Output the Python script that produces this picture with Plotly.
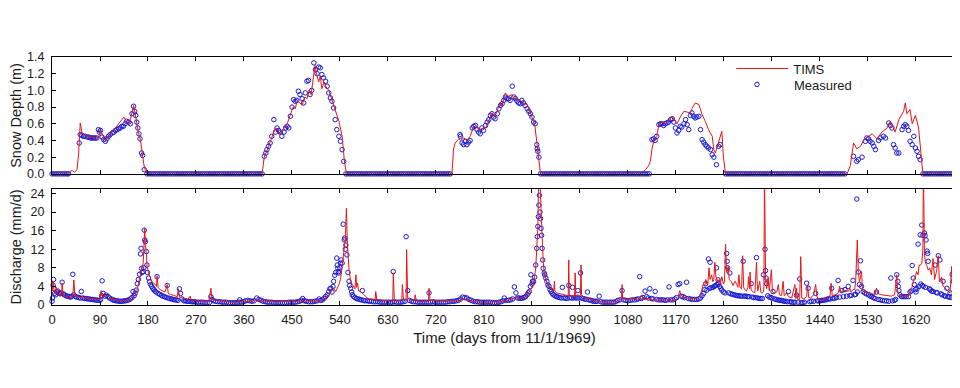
import plotly.graph_objects as go

# ---------------- data ----------------
x_ticks = [0, 90, 180, 270, 360, 450, 540, 630, 720, 810, 900, 990, 1080, 1170, 1260, 1350, 1440, 1530, 1620]
snow_ticks = [0.0, 0.2, 0.4, 0.6, 0.8, 1.0, 1.2, 1.4]
q_ticks = [0, 4, 8, 12, 16, 20, 24]

# Snow depth, TIMS model (day, m)
snow_tims = [
    (0, 0), (30, 0), (34, 0.03), (38, 0.04), (42, 0.02), (47, 0.05), (50, 0.25), (53, 0.61), (56, 0.5),
    (59, 0.47), (66, 0.45), (72, 0.44), (78, 0.43), (84, 0.43), (88, 0.44), (91, 0.52), (94, 0.48),
    (97, 0.42), (100, 0.4), (106, 0.45), (113, 0.5), (119, 0.55), (125, 0.6), (131, 0.65), (135, 0.68),
    (140, 0.63), (144, 0.6), (147, 0.65), (150, 0.75), (153, 0.82), (156, 0.72), (159, 0.6), (162, 0.5),
    (166, 0.4), (169, 0.25), (172, 0.12), (175, 0.04), (178, 0),
    (394, 0), (396, 0.1), (398, 0.2), (403, 0.28), (409, 0.38), (412, 0.45), (416, 0.5), (420, 0.55),
    (425, 0.5), (428, 0.47), (431, 0.52), (436, 0.55), (441, 0.6), (447, 0.72), (452, 0.8), (456, 0.78),
    (460, 0.88), (465, 0.85), (469, 0.82), (474, 0.92), (478, 0.9), (482, 1.0), (486, 0.95), (489, 1.1),
    (493, 1.3), (496, 1.2), (500, 1.1), (503, 1.17), (506, 1.02), (510, 1.1), (513, 1.05), (519, 1.0),
    (524, 0.9), (528, 0.81), (533, 0.72), (538, 0.63), (544, 0.45), (548, 0.17), (552, 0),
    (750, 0), (752, 0.2), (753, 0.3), (756, 0.37), (760, 0.4), (763, 0.42), (766, 0.4), (772, 0.43),
    (778, 0.4), (784, 0.45), (791, 0.57), (797, 0.55), (803, 0.53), (809, 0.55), (813, 0.55), (819, 0.63),
    (825, 0.73), (828, 0.7), (831, 0.69), (836, 0.78), (841, 0.85), (844, 0.82), (850, 0.97), (856, 0.93),
    (863, 0.95), (866, 0.9), (872, 0.9), (878, 0.88), (884, 0.85), (891, 0.83), (897, 0.73), (903, 0.63),
    (906, 0.55), (910, 0.35), (913, 0.2), (916, 0),
    (1103, 0), (1113, 0.05), (1119, 0.1), (1122, 0.15), (1125, 0.3), (1128, 0.38), (1131, 0.42),
    (1134, 0.45), (1138, 0.59), (1141, 0.6), (1144, 0.62), (1150, 0.6), (1156, 0.64), (1163, 0.69),
    (1166, 0.65), (1172, 0.6), (1178, 0.68), (1185, 0.75), (1191, 0.74), (1197, 0.73), (1200, 0.78),
    (1206, 0.85), (1213, 0.83), (1219, 0.71), (1225, 0.63), (1231, 0.53), (1238, 0.45), (1241, 0.29),
    (1244, 0.25), (1250, 0.37), (1256, 0.51), (1259, 0.2), (1263, 0),
    (1491, 0), (1497, 0.1), (1503, 0.37), (1509, 0.3), (1516, 0.33), (1522, 0.4), (1531, 0.45),
    (1538, 0.48), (1547, 0.42), (1556, 0.5), (1566, 0.55), (1572, 0.63), (1581, 0.5), (1588, 0.65),
    (1597, 0.75), (1600, 0.85), (1603, 0.72), (1609, 0.77), (1613, 0.6), (1619, 0.7), (1625, 0.55),
    (1628, 0.3), (1633, 0), (1697, 0),
]

# Snow depth, measured (day, m)
snow_meas = [
    (0, 0), (4, 0), (8, 0), (12, 0), (16, 0), (20, 0), (24, 0), (28, 0), (31, 0),
    (51, 0.37), (53, 0.47), (56, 0.46), (59, 0.45), (62, 0.45), (66, 0.44), (69, 0.44), (72, 0.43),
    (75, 0.43), (78, 0.43), (81, 0.43), (84, 0.43), (87, 0.53), (89, 0.5), (91, 0.52), (94, 0.44),
    (97, 0.41), (100, 0.39), (103, 0.42), (106, 0.45), (109, 0.47), (113, 0.49), (116, 0.5), (119, 0.52),
    (122, 0.53), (125, 0.54), (128, 0.55), (131, 0.57), (134, 0.57), (137, 0.6), (140, 0.63), (144, 0.62),
    (147, 0.6), (150, 0.72), (153, 0.81), (155, 0.75), (157, 0.7), (159, 0.62), (161, 0.55), (163, 0.48),
    (165, 0.42), (168, 0.25), (170, 0.22), (173, 0.05),
    (178, 0), (182, 0), (186, 0), (190, 0), (194, 0), (198, 0), (202, 0), (206, 0), (210, 0), (214, 0),
    (218, 0), (222, 0), (226, 0), (230, 0), (234, 0), (238, 0), (242, 0), (246, 0), (250, 0), (254, 0),
    (258, 0), (262, 0), (266, 0), (270, 0), (274, 0), (278, 0), (282, 0), (286, 0), (290, 0), (294, 0),
    (298, 0), (302, 0), (306, 0), (310, 0), (314, 0), (318, 0), (322, 0), (326, 0), (330, 0), (334, 0),
    (338, 0), (342, 0), (346, 0), (350, 0), (354, 0), (358, 0), (362, 0), (366, 0), (370, 0), (374, 0),
    (378, 0), (382, 0), (386, 0), (390, 0), (394, 0),
    (398, 0.21), (401, 0.25), (403, 0.29), (406, 0.33), (409, 0.37), (412, 0.45), (416, 0.65), (419, 0.5),
    (422, 0.55), (425, 0.52), (428, 0.5), (431, 0.45), (435, 0.5), (438, 0.55), (441, 0.57), (444, 0.55),
    (447, 0.69), (450, 0.8), (453, 0.89), (456, 0.87), (459, 0.88), (462, 0.99), (465, 0.95), (469, 0.9),
    (472, 0.85), (475, 0.97), (478, 1.11), (481, 1.12), (484, 0.95), (487, 1.0), (491, 1.33), (494, 1.25),
    (497, 1.2), (500, 1.28), (503, 1.27), (506, 1.19), (509, 1.15), (513, 1.11), (516, 1.05), (519, 0.97),
    (522, 0.91), (525, 0.87), (528, 0.79), (531, 0.65), (534, 0.53), (538, 0.45), (541, 0.39), (544, 0.29),
    (547, 0.15),
    (551, 0), (555, 0), (559, 0), (563, 0), (567, 0), (571, 0), (575, 0), (579, 0), (583, 0), (587, 0),
    (591, 0), (595, 0), (599, 0), (603, 0), (607, 0), (611, 0), (615, 0), (619, 0), (623, 0), (627, 0),
    (631, 0), (635, 0), (639, 0), (643, 0), (647, 0), (651, 0), (655, 0), (659, 0), (663, 0), (667, 0),
    (671, 0), (675, 0), (679, 0), (683, 0), (687, 0), (691, 0), (695, 0), (699, 0), (703, 0), (707, 0),
    (711, 0), (715, 0), (719, 0), (723, 0), (727, 0), (731, 0), (735, 0), (739, 0), (743, 0), (747, 0),
    (765, 0.47), (766, 0.45), (769, 0.37), (772, 0.35), (775, 0.39), (778, 0.35), (781, 0.38), (784, 0.4),
    (788, 0.55), (791, 0.57), (794, 0.58), (797, 0.53), (800, 0.5), (803, 0.48), (806, 0.55), (809, 0.52),
    (813, 0.58), (816, 0.62), (819, 0.65), (822, 0.7), (825, 0.72), (828, 0.68), (831, 0.66), (835, 0.72),
    (838, 0.78), (841, 0.82), (844, 0.84), (847, 0.88), (850, 0.92), (853, 0.9), (856, 0.9), (859, 0.88),
    (863, 1.05), (866, 0.92), (869, 0.9), (872, 0.87), (875, 0.85), (878, 0.84), (881, 0.88), (884, 0.85),
    (887, 0.82), (891, 0.78), (894, 0.75), (897, 0.72), (900, 0.68), (903, 0.62), (906, 0.6), (909, 0.35),
    (910, 0.3), (911, 0.27), (913, 0.2),
    (916, 0), (920, 0), (924, 0), (928, 0), (932, 0), (936, 0), (940, 0), (944, 0), (948, 0), (952, 0),
    (956, 0), (960, 0), (964, 0), (968, 0), (972, 0), (976, 0), (980, 0), (984, 0), (988, 0), (992, 0),
    (996, 0), (1000, 0), (1004, 0), (1008, 0), (1012, 0), (1016, 0), (1020, 0), (1024, 0), (1028, 0),
    (1032, 0), (1036, 0), (1040, 0), (1044, 0), (1048, 0), (1052, 0), (1056, 0), (1060, 0), (1064, 0),
    (1068, 0), (1072, 0), (1076, 0), (1080, 0), (1084, 0), (1088, 0), (1092, 0), (1096, 0), (1100, 0),
    (1104, 0), (1108, 0), (1112, 0), (1116, 0), (1120, 0),
    (1125, 0.41), (1128, 0.42), (1131, 0.4), (1134, 0.45), (1138, 0.59), (1141, 0.6), (1144, 0.6),
    (1147, 0.58), (1150, 0.6), (1153, 0.61), (1156, 0.62), (1160, 0.65), (1163, 0.66), (1166, 0.62),
    (1169, 0.55), (1172, 0.49), (1175, 0.52), (1178, 0.57), (1181, 0.56), (1185, 0.6), (1188, 0.65),
    (1191, 0.59), (1194, 0.53), (1197, 0.7), (1200, 0.73), (1203, 0.69), (1206, 0.67), (1209, 0.68),
    (1213, 0.69), (1216, 0.53), (1219, 0.41), (1222, 0.38), (1225, 0.35), (1228, 0.33), (1231, 0.31),
    (1235, 0.29), (1238, 0.23), (1241, 0.2), (1246, 0.11), (1250, 0.33), (1253, 0.35),
    (1263, 0), (1267, 0), (1271, 0), (1275, 0), (1279, 0), (1283, 0), (1287, 0), (1291, 0), (1295, 0),
    (1299, 0), (1303, 0), (1307, 0), (1311, 0), (1315, 0), (1319, 0), (1323, 0), (1327, 0), (1331, 0),
    (1335, 0), (1339, 0), (1343, 0), (1347, 0), (1351, 0), (1355, 0), (1359, 0), (1363, 0), (1367, 0),
    (1371, 0), (1375, 0), (1379, 0), (1383, 0), (1387, 0), (1391, 0), (1395, 0), (1399, 0), (1403, 0),
    (1407, 0), (1411, 0), (1415, 0), (1419, 0), (1423, 0), (1427, 0), (1431, 0), (1435, 0), (1439, 0),
    (1443, 0), (1447, 0), (1451, 0), (1455, 0), (1459, 0), (1463, 0), (1467, 0), (1471, 0), (1475, 0),
    (1479, 0), (1483, 0), (1487, 0),
    (1503, 0.21), (1509, 0.15), (1512, 0.17), (1519, 0.2), (1525, 0.39), (1528, 0.43), (1531, 0.42),
    (1534, 0.39), (1538, 0.37), (1541, 0.33), (1544, 0.29), (1550, 0.4), (1553, 0.43), (1559, 0.45),
    (1563, 0.43), (1569, 0.61), (1572, 0.58), (1575, 0.55), (1578, 0.35), (1581, 0.31), (1584, 0.25),
    (1588, 0.25), (1594, 0.53), (1597, 0.57), (1600, 0.59), (1603, 0.57), (1606, 0.52), (1609, 0.39),
    (1613, 0.35), (1616, 0.45), (1619, 0.31), (1622, 0.27), (1625, 0.21), (1628, 0.17),
    (1633, 0), (1637, 0), (1641, 0), (1645, 0), (1649, 0), (1653, 0), (1657, 0), (1661, 0), (1665, 0),
    (1669, 0), (1673, 0), (1677, 0), (1681, 0), (1685, 0), (1689, 0), (1693, 0), (1696, 0),
]

# Discharge, TIMS model (day, mm/d)
q_tims = [
    (0, 3.0), (2, 5.0), (4, 2.8), (6, 2.6), (8, 3.8), (10, 2.4), (14, 2.2), (18, 2.0), (19, 4.7), (21, 2.0),
    (25, 1.9), (30, 1.8), (35, 1.7), (39, 2.0), (41, 5.4), (43, 2.0), (47, 1.8), (52, 1.6), (56, 1.7),
    (60, 1.5), (65, 1.5), (70, 1.4), (75, 1.3), (80, 1.3), (85, 1.2), (90, 1.2), (92, 3.1), (94, 1.8),
    (98, 2.0), (102, 2.2), (106, 1.8), (110, 1.4), (115, 1.2), (120, 1.1), (125, 1.0), (130, 1.0),
    (135, 1.0), (140, 1.1), (145, 1.2), (150, 1.6), (155, 2.0), (159, 3.0), (162, 4.4), (166, 6.1),
    (169, 7.6), (171, 9.0), (174, 16.5), (175, 13.0), (177, 11.0), (178, 8.6), (181, 6.9), (184, 5.8),
    (187, 5.1), (191, 4.6), (194, 4.4), (196, 4.0), (197, 6.3), (199, 3.8), (203, 3.3), (208, 3.0),
    (212, 2.8), (216, 4.4), (218, 2.5), (222, 2.3), (225, 2.2), (230, 2.0), (235, 1.8), (237, 3.5),
    (239, 1.7), (244, 1.5), (250, 1.3), (255, 1.2), (259, 1.9), (261, 1.1), (265, 1.0), (269, 0.9),
    (275, 0.8), (281, 0.8), (287, 0.8), (294, 0.7), (298, 3.6), (300, 1.1), (306, 1.1), (312, 1.0),
    (318, 0.9), (325, 0.7), (335, 0.6), (345, 0.6), (352, 0.8), (356, 0.6), (362, 0.7),
    (368, 0.9), (375, 1.0), (384, 1.1), (391, 0.9), (398, 0.8), (404, 0.7), (415, 0.7), (425, 0.7),
    (435, 0.7), (448, 0.7), (460, 0.8), (470, 0.9), (479, 0.8), (490, 0.8), (498, 0.9), (505, 1.0),
    (512, 1.3), (516, 1.8), (520, 2.2), (523, 3.0), (528, 3.6), (532, 2.9), (535, 3.5), (538, 4.4),
    (541, 5.5), (544, 8.6), (546, 10.0), (548, 12.9), (550, 14.0), (552, 20.8), (553, 13.0), (554, 12.9),
    (557, 7.6), (560, 5.1), (563, 4.4), (566, 3.8), (568, 3.5), (570, 6.5), (571, 3.8), (573, 4.7),
    (575, 3.0), (579, 2.9), (582, 2.5), (585, 2.2), (588, 1.8), (591, 1.5), (596, 1.3), (600, 1.3),
    (606, 1.2), (607, 2.9), (609, 1.2), (616, 1.1), (622, 0.9), (629, 0.8), (635, 0.8), (639, 0.9),
    (640, 6.9), (642, 0.9), (648, 0.8), (652, 0.9), (656, 1.2), (657, 4.4), (659, 1.2), (663, 1.0),
    (664, 1.2), (665, 11.9), (667, 1.5), (670, 1.1), (675, 1.0), (680, 1.2), (681, 2.2), (683, 1.0),
    (690, 0.8), (697, 0.7), (704, 0.7), (706, 0.9), (707, 3.6), (709, 0.9), (716, 1.1), (722, 0.9),
    (729, 0.8),
    (740, 0.8), (750, 0.9), (757, 0.8), (765, 1.0), (770, 1.2), (778, 1.1), (785, 0.9), (795, 0.7),
    (805, 0.6), (815, 0.6), (825, 0.6), (835, 0.6), (845, 0.7), (852, 0.9), (858, 1.1), (864, 1.3),
    (870, 1.6), (875, 1.5), (880, 1.4), (886, 1.5), (890, 2.0), (895, 2.9), (898, 3.5), (901, 4.0),
    (904, 5.4), (907, 8.0), (909, 12.0), (911, 17.0), (912.5, 27.0), (914, 25.0), (915, 27.0),
    (917, 20.8), (919, 12.2), (921, 9.4), (923, 6.9), (926, 5.4), (929, 4.5), (932, 4.0), (936, 3.5),
    (939, 3.6), (941, 3.0), (942, 5.1), (943, 3.0), (946, 2.6), (950, 2.5), (955, 2.4), (960, 2.3),
    (965, 2.2), (968, 2.0), (969, 9.7), (970, 2.2), (974, 2.0), (977, 1.9), (980, 1.8), (981, 6.9),
    (982, 1.9), (986, 2.2), (989, 2.0), (991, 2.2), (992, 8.6), (993, 2.2), (996, 1.8), (1000, 1.6),
    (1005, 1.4), (1010, 1.2), (1015, 1.0), (1020, 0.9), (1026, 0.8), (1033, 0.6), (1040, 0.6),
    (1050, 0.6), (1058, 0.7), (1062, 1.0), (1066, 1.2), (1068, 1.5), (1069, 4.4), (1070, 1.5),
    (1075, 1.2), (1080, 1.3), (1086, 1.4),
    (1093, 1.2), (1100, 1.3), (1106, 2.2), (1108, 1.3), (1112, 1.2), (1118, 1.3), (1125, 1.1),
    (1131, 1.0), (1138, 1.1), (1145, 1.1), (1152, 1.2), (1158, 1.1), (1165, 1.0), (1170, 1.1),
    (1174, 1.6), (1177, 3.1), (1179, 2.2), (1181, 1.9), (1185, 1.6), (1190, 1.5), (1195, 1.5),
    (1200, 1.4), (1205, 1.3), (1210, 1.4), (1215, 2.0), (1218, 3.0), (1221, 4.4), (1224, 4.0),
    (1226, 5.5), (1228, 4.5), (1230, 5.0), (1232, 8.0), (1234, 5.5), (1237, 6.5), (1239, 5.0),
    (1241, 5.5), (1243, 9.2), (1245, 6.0), (1247, 5.5), (1249, 5.0), (1251, 5.5), (1253, 4.4),
    (1256, 6.1), (1259, 4.5), (1261, 5.0), (1263, 13.1), (1265, 7.0), (1268, 8.3), (1270, 5.5),
    (1274, 5.0), (1277, 4.2), (1281, 5.1), (1284, 4.4), (1286, 3.8), (1288, 6.5), (1290, 3.8),
    (1293, 3.5), (1295, 10.6), (1297, 3.8), (1299, 3.3), (1302, 3.0), (1305, 3.8), (1306, 6.1),
    (1308, 3.5), (1309, 7.1), (1311, 3.2), (1315, 2.8), (1318, 2.6), (1321, 9.2), (1323, 3.0),
    (1324, 3.3), (1327, 5.1), (1329, 2.8), (1331, 2.5), (1334, 2.8), (1335, 4.0), (1336, 30.0),
    (1338, 6.0), (1340, 3.5), (1343, 5.8), (1345, 3.0), (1349, 7.6), (1351, 2.8), (1355, 2.5),
    (1359, 2.8), (1362, 4.4), (1364, 2.2), (1368, 2.0), (1371, 5.1), (1373, 2.0), (1377, 2.6),
    (1381, 1.8), (1387, 1.5), (1393, 4.4), (1395, 1.4),
    (1396, 3.6), (1398, 1.3), (1402, 1.2), (1404, 10.4), (1406, 1.5), (1410, 1.3), (1415, 1.8),
    (1417, 4.3), (1419, 1.6), (1423, 1.5), (1428, 2.2), (1432, 4.4), (1434, 2.0), (1437, 1.2),
    (1443, 1.1), (1449, 1.5), (1456, 1.8), (1459, 2.0), (1461, 4.7), (1463, 2.0), (1468, 2.2),
    (1474, 2.5), (1477, 4.0), (1479, 2.8), (1484, 2.9), (1487, 3.2), (1490, 3.0), (1494, 3.0),
    (1496, 3.6), (1498, 2.8), (1502, 3.3), (1505, 3.3), (1507, 5.0), (1510, 14.0), (1512, 7.0),
    (1514, 5.0), (1516, 6.0), (1518, 7.2), (1520, 3.0), (1525, 2.9), (1531, 2.7), (1537, 2.5),
    (1543, 2.2), (1546, 3.6), (1548, 2.5), (1555, 2.2), (1562, 2.1), (1568, 2.0), (1574, 1.9),
    (1580, 2.2), (1584, 6.5), (1586, 2.6), (1590, 2.2), (1595, 2.0), (1600, 1.9), (1606, 1.9),
    (1609, 2.5), (1612, 3.5), (1615, 5.0), (1617, 5.8), (1619, 6.0), (1621, 7.2), (1624, 6.5),
    (1626, 8.6), (1628, 8.5), (1631, 9.0), (1633, 12.0), (1634, 30.0), (1636, 11.0), (1638, 9.0),
    (1641, 8.3), (1643, 7.5), (1646, 8.0), (1649, 6.5), (1652, 10.0), (1655, 5.5), (1659, 7.5),
    (1662, 10.6), (1664, 5.0), (1668, 6.0), (1671, 4.0), (1674, 3.8), (1678, 3.2), (1681, 2.9),
    (1684, 2.6), (1687, 8.3), (1689, 2.5), (1693, 1.8), (1695, 2.5), (1697, 1.5),
]

# Discharge, measured (day, mm/d)
q_meas = [
    (0, 0.8), (1, 1.5), (2, 4.3), (3, 5.5), (4, 3.5), (5, 2.5), (7, 2.2), (9, 2.8), (11, 3.0), (13, 2.6),
    (15, 2.4), (17, 2.6), (19, 4.9), (21, 2.4), (23, 2.2), (26, 2.0), (29, 1.9), (32, 1.8), (35, 1.7),
    (37, 1.9), (39, 6.6), (41, 2.2), (44, 1.8), (47, 1.7), (50, 1.6), (53, 1.5), (55, 2.9), (58, 1.5),
    (61, 1.4), (64, 1.4), (67, 1.3), (70, 1.3), (73, 1.2), (76, 1.2), (79, 1.1), (82, 1.1), (85, 1.0),
    (88, 1.0), (91, 1.1), (93, 2.0), (94, 5.2), (96, 2.5), (99, 1.9), (102, 2.1), (105, 1.8), (108, 1.5),
    (111, 1.3), (114, 1.1), (117, 1.0), (120, 0.9), (123, 0.9), (126, 0.8), (129, 0.8), (132, 0.8),
    (135, 0.9), (138, 0.9), (141, 1.0), (144, 1.1), (147, 1.3), (150, 1.6), (152, 2.9), (154, 2.0),
    (156, 2.5), (158, 3.2), (160, 4.6), (162, 5.5), (164, 6.6), (166, 11.0), (167, 12.2), (168, 7.9),
    (169, 7.0), (171, 7.2), (172, 8.0), (173, 16.1), (174, 14.0), (175, 13.6), (177, 11.5), (178, 8.6),
    (179, 7.0), (181, 5.8), (183, 5.0), (185, 4.4), (187, 4.0), (189, 3.6), (191, 3.3), (193, 3.0),
    (195, 2.8), (197, 6.1), (199, 2.5), (202, 2.3), (205, 2.1), (208, 1.9), (211, 1.8), (214, 1.6),
    (216, 4.2), (218, 1.5), (221, 1.4), (224, 1.3), (227, 1.2), (230, 1.1), (233, 1.1), (236, 1.0),
    (239, 3.5), (241, 2.5), (244, 1.3), (247, 0.9), (250, 0.9), (253, 0.8), (256, 0.8), (259, 0.8),
    (262, 0.7), (265, 0.7), (268, 0.7), (271, 0.6), (275, 0.6), (279, 0.6), (283, 0.6), (287, 0.5),
    (291, 0.5), (295, 0.5), (298, 1.8), (300, 1.2), (303, 0.9), (307, 0.8), (311, 0.7), (315, 0.7),
    (319, 0.6), (323, 0.6), (327, 0.6), (331, 0.5), (335, 0.5), (339, 0.5), (343, 0.5), (347, 0.5),
    (351, 0.6), (352, 1.1), (355, 0.6), (359, 0.7), (363, 0.9), (367, 1.0), (371, 0.9), (375, 0.8),
    (379, 0.9), (384, 1.5), (388, 1.2), (392, 1.0), (396, 0.8), (400, 0.7), (404, 0.6), (408, 0.6),
    (412, 0.6), (416, 0.5), (420, 0.5), (424, 0.5), (428, 0.5), (432, 0.5), (436, 0.5), (440, 0.5),
    (444, 0.6), (448, 0.6), (452, 0.6), (456, 0.6), (460, 0.7), (464, 0.8), (468, 1.0), (470, 1.4),
    (473, 0.9), (477, 0.8), (481, 0.7), (485, 0.7), (489, 0.7), (493, 0.8), (497, 0.9), (501, 1.3),
    (504, 1.0), (507, 1.1), (510, 1.4), (513, 1.8), (516, 2.2), (519, 2.9), (521, 3.5), (523, 3.6),
    (525, 2.8), (527, 4.0), (528, 5.1), (530, 6.4), (532, 7.0), (534, 10.1), (535, 8.6), (536, 7.9),
    (537, 7.2), (538, 6.9), (540, 8.0), (541, 9.0), (542, 9.7), (544, 9.0), (546, 17.4), (548, 14.0),
    (549, 14.4), (550, 12.0), (551, 12.9), (553, 10.8), (555, 7.0), (557, 5.1), (558, 4.2), (560, 3.6),
    (562, 2.8), (563, 2.2), (565, 1.9), (568, 1.6), (571, 1.4), (574, 1.3), (577, 1.2), (580, 1.1),
    (582, 3.1), (584, 1.0), (587, 0.9), (591, 0.9), (595, 0.8), (599, 0.8), (603, 0.7), (607, 0.7),
    (611, 0.7), (615, 0.6), (619, 0.6), (623, 0.6), (627, 0.6), (631, 0.6), (635, 0.6), (638, 0.6),
    (640, 7.2), (642, 0.7), (646, 0.6), (650, 0.6), (654, 0.6), (658, 0.7), (662, 0.8), (664, 14.7),
    (667, 3.1), (670, 1.0), (674, 0.8), (678, 0.7), (682, 0.7), (686, 0.6), (690, 0.6), (694, 0.6),
    (698, 0.6), (702, 0.6), (706, 0.6), (707, 2.6), (710, 0.6), (714, 0.7), (718, 0.6), (722, 0.6),
    (726, 0.6), (730, 0.6), (734, 0.6), (738, 0.6), (742, 0.7), (746, 0.7), (750, 0.8), (754, 0.8),
    (758, 0.9), (762, 1.0), (766, 1.3), (770, 1.7), (774, 1.6), (778, 1.5), (782, 1.2), (786, 1.0),
    (790, 0.8), (794, 0.7), (798, 0.7), (802, 0.6), (806, 0.6), (810, 0.6), (814, 0.6), (818, 0.6),
    (822, 0.6), (826, 0.5), (830, 0.5), (834, 0.5), (838, 0.6), (842, 0.7), (846, 0.9), (848, 1.5),
    (852, 1.0), (856, 1.0), (860, 1.1), (864, 1.3), (867, 3.9), (870, 2.6), (873, 1.5), (876, 1.5),
    (879, 1.4), (882, 1.5), (885, 1.6), (888, 1.8), (891, 2.2), (893, 2.6), (895, 2.9), (897, 4.0),
    (898, 6.5), (900, 4.5), (901, 5.1), (903, 5.0), (905, 6.0), (907, 8.6), (909, 12.2), (910, 14.7),
    (911, 16.9), (912, 19.0), (913, 21.5), (914, 23.6), (915, 20.0), (916, 18.6), (917, 16.5),
    (918, 15.0), (919, 12.2), (920, 9.7), (921, 7.9), (923, 6.9), (924, 6.5), (926, 5.8), (928, 5.1),
    (930, 4.3), (932, 4.0), (934, 3.3), (936, 2.9), (938, 2.5), (940, 2.2), (943, 2.0), (946, 1.8),
    (949, 1.7), (952, 1.6), (955, 1.5), (957, 3.8), (960, 1.5), (963, 1.5), (966, 1.4), (969, 4.2),
    (971, 1.6), (974, 1.5), (976, 3.8), (978, 1.5), (981, 1.6), (984, 1.5), (986, 3.1), (988, 1.5),
    (991, 6.9), (993, 1.5), (996, 1.4), (999, 1.3), (1002, 1.2), (1004, 2.8), (1007, 1.1), (1010, 1.0),
    (1013, 0.9), (1016, 0.8), (1019, 0.8), (1022, 0.8), (1026, 1.9), (1029, 0.7), (1033, 0.6),
    (1037, 0.6), (1041, 0.6), (1045, 0.6), (1049, 0.6), (1053, 0.6), (1057, 0.7), (1061, 1.0),
    (1065, 1.1), (1069, 3.1), (1072, 1.1), (1076, 1.0), (1080, 0.9), (1084, 1.0), (1088, 1.1),
    (1092, 1.1), (1096, 1.2), (1099, 1.3), (1102, 6.1), (1105, 1.4), (1108, 1.6), (1112, 3.0),
    (1115, 1.8), (1118, 1.5), (1121, 3.5), (1124, 1.4), (1127, 1.3), (1131, 2.9), (1134, 1.2),
    (1138, 1.1), (1142, 1.1), (1146, 1.1), (1150, 1.0), (1154, 1.1), (1157, 3.9), (1160, 1.1),
    (1164, 1.1), (1168, 1.3), (1171, 1.6), (1174, 4.4), (1177, 4.6), (1180, 1.9), (1183, 1.8),
    (1186, 1.6), (1190, 4.9), (1193, 1.4), (1197, 1.3), (1201, 1.2), (1205, 1.2), (1209, 1.2),
    (1213, 1.3), (1216, 1.5), (1219, 2.0), (1222, 2.5), (1224, 3.3), (1226, 4.6), (1228, 3.2),
    (1231, 9.9), (1233, 3.6), (1234, 9.2), (1236, 3.7), (1239, 3.8), (1242, 4.0), (1244, 4.2),
    (1246, 8.0), (1247, 4.4), (1249, 5.4), (1250, 4.6), (1252, 4.0), (1254, 3.6), (1256, 3.2),
    (1259, 2.8), (1262, 2.6), (1265, 11.1), (1266, 9.4), (1267, 8.0), (1269, 2.6), (1271, 6.9),
    (1273, 2.4), (1276, 2.3), (1279, 2.2), (1282, 2.1), (1285, 2.0), (1288, 2.0), (1291, 1.9),
    (1294, 1.9), (1296, 9.4), (1298, 1.9), (1301, 1.9), (1304, 1.8), (1307, 1.8), (1311, 4.6),
    (1313, 1.7), (1316, 1.6), (1319, 1.6), (1321, 10.2), (1323, 1.5), (1326, 1.4), (1329, 1.4),
    (1332, 1.4), (1334, 6.5), (1337, 12.0), (1338, 7.4), (1339, 5.8), (1340, 4.6), (1342, 2.0),
    (1345, 1.7), (1348, 1.6), (1350, 1.5), (1352, 2.9), (1355, 1.3), (1358, 1.2), (1361, 1.1),
    (1364, 1.0), (1367, 1.0), (1370, 0.9), (1373, 0.8), (1376, 0.8), (1379, 0.7), (1381, 2.9),
    (1384, 0.7), (1387, 0.6), (1390, 0.6), (1393, 0.6), (1396, 2.1), (1399, 0.6), (1402, 5.6),
    (1405, 0.5), (1408, 0.5), (1411, 0.6), (1415, 4.7), (1418, 3.6), (1421, 0.7), (1424, 0.8),
    (1428, 0.8), (1432, 2.5), (1435, 0.9), (1438, 0.9), (1441, 0.9), (1444, 1.0), (1447, 1.0),
    (1450, 1.1), (1453, 1.2), (1456, 1.3), (1459, 1.3), (1462, 3.6), (1465, 1.4), (1468, 1.5),
    (1471, 1.6), (1474, 5.3), (1477, 1.7), (1481, 3.1), (1484, 1.8), (1487, 3.3), (1490, 1.9),
    (1493, 4.0), (1496, 2.0), (1499, 2.1), (1502, 5.3), (1505, 2.2), (1507, 2.3), (1509, 22.8),
    (1510, 2.8), (1512, 7.1), (1514, 4.4), (1516, 9.5), (1518, 4.0), (1521, 2.9), (1524, 2.6),
    (1527, 2.4), (1531, 2.2), (1534, 1.9), (1537, 1.8), (1540, 1.6), (1543, 1.4), (1546, 2.8),
    (1549, 1.2), (1553, 1.1), (1557, 1.0), (1561, 0.9), (1565, 0.9), (1569, 0.8), (1573, 5.8),
    (1576, 0.9), (1580, 1.0), (1582, 1.2), (1584, 6.5), (1586, 5.1), (1587, 4.0), (1588, 3.1),
    (1590, 2.2), (1593, 1.8), (1596, 1.8), (1599, 1.8), (1602, 1.8), (1606, 1.8), (1609, 2.8),
    (1611, 3.0), (1613, 8.5), (1615, 5.8), (1617, 4.4), (1619, 3.3), (1620, 2.8), (1622, 3.5),
    (1624, 13.1), (1626, 4.0), (1628, 15.1), (1629, 4.5), (1631, 17.2), (1632, 4.2), (1633, 15.0),
    (1634, 4.0), (1636, 15.5), (1637, 14.9), (1638, 3.8), (1639, 14.0), (1641, 11.6), (1642, 11.1),
    (1643, 9.4), (1645, 3.5), (1647, 3.3), (1649, 3.0), (1652, 2.9), (1656, 8.6), (1658, 2.7),
    (1660, 2.6), (1662, 10.6), (1665, 9.7), (1667, 2.4), (1669, 2.2), (1671, 5.1), (1673, 2.0),
    (1675, 1.9), (1678, 3.6), (1680, 1.8), (1682, 1.7), (1684, 2.6), (1686, 1.6), (1688, 6.6),
    (1690, 5.1), (1692, 1.5), (1694, 1.4), (1696, 1.3),
]

# ---------------- figure ----------------
RED = "rgb(230,20,20)"
BLUE = "rgb(25,25,210)"
FONT = "Liberation Sans, Arial, Helvetica, sans-serif"
TXT = "#1a1a1a"


def unzip(pairs):
    return [p[0] for p in pairs], [p[1] for p in pairs]


fig = go.Figure()

sm_x, sm_y = unzip(snow_meas)
st_x, st_y = unzip(snow_tims)
qm_x, qm_y = unzip(q_meas)
qt_x, qt_y = unzip(q_tims)

marker_style = dict(symbol="circle-open", size=4.5, color=BLUE, line=dict(width=1, color=BLUE))

fig.add_trace(go.Scatter(x=sm_x, y=sm_y, mode="markers", name="Measured", marker=marker_style,
                         xaxis="x", yaxis="y", cliponaxis=False, legend="legend2"))
fig.add_trace(go.Scatter(x=st_x, y=st_y, mode="lines", name="TIMS", line=dict(color=RED, width=1),
                         xaxis="x", yaxis="y", legend="legend"))
fig.add_trace(go.Scatter(x=qm_x, y=qm_y, mode="markers", name="Measured", marker=marker_style,
                         xaxis="x2", yaxis="y2", cliponaxis=False, showlegend=False))
fig.add_trace(go.Scatter(x=qt_x, y=qt_y, mode="lines", name="TIMS", line=dict(color=RED, width=1),
                         xaxis="x2", yaxis="y2", showlegend=False))

axis_common = dict(
    showline=True, linecolor="black", linewidth=1, mirror="ticks",
    ticks="inside", ticklen=4, tickcolor="black", tickwidth=1,
    showgrid=False, zeroline=False, automargin=False,
    tickfont=dict(family=FONT, size=13, color=TXT),
)

X_RANGE = [0, 1697]
legend_font = dict(family=FONT, size=13, color=TXT)

# The page body adds an 8 px offset, so the figure is sized to end exactly at the window edge.
fig.update_layout(
    width=952, height=380,
    margin=dict(l=44, r=3, t=49, b=83, autoexpand=False),
    paper_bgcolor="white", plot_bgcolor="white",
    font=dict(family=FONT, color=TXT),
    showlegend=True,
    legend=dict(
        x=0.7505, y=1.014, xanchor="left", yanchor="top",
        bgcolor="rgba(0,0,0,0)", borderwidth=0,
        font=legend_font, itemwidth=52,
    ),
    legend2=dict(
        x=0.7381, y=0.9496, xanchor="left", yanchor="top",
        bgcolor="rgba(0,0,0,0)", borderwidth=0,
        font=legend_font, itemwidth=64,
    ),
    xaxis=dict(axis_common, domain=[0, 1], anchor="y", range=X_RANGE,
               tickvals=x_ticks, showticklabels=False),
    yaxis=dict(axis_common, domain=[0.5288, 1], anchor="x", range=[0, 1.4],
               tickvals=snow_ticks, tickformat=".1f", ticklabelstandoff=4,
               tickfont=dict(family=FONT, size=12.5, color=TXT),
               title=dict(text="Snow Depth (m)", font=dict(family=FONT, size=14.5, color=TXT), standoff=10)),
    xaxis2=dict(axis_common, domain=[0, 1], anchor="y2", range=X_RANGE,
                tickvals=x_ticks, ticklabelstandoff=2,
                title=dict(text="Time (days from 11/1/1969)", font=dict(family=FONT, size=15, color=TXT), standoff=6)),
    yaxis2=dict(axis_common, domain=[0, 0.4684], anchor="x2", range=[0, 25],
                tickvals=q_ticks, ticklabelstandoff=4,
                tickfont=dict(family=FONT, size=12.5, color=TXT),
                title=dict(text="Discharge (mm/d)", font=dict(family=FONT, size=14.5, color=TXT), standoff=13)),
)

fig.write_html("out.html")
